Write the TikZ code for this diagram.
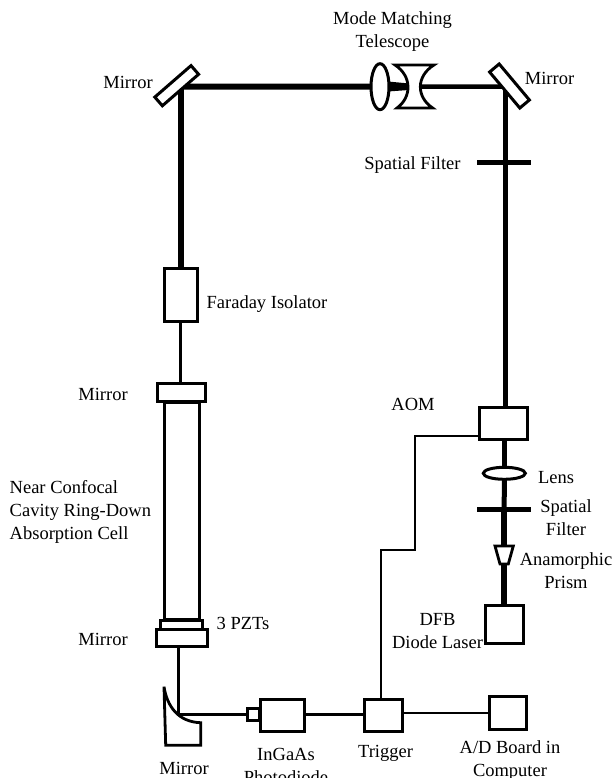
\documentclass[tikz,border=0pt]{standalone}
\usepackage{fontspec}
\usetikzlibrary{shapes.geometric,backgrounds}
\setmainfont{Liberation Serif}
\tikzset{
  box/.style={draw=black,fill=white,line width=3pt,inner sep=0pt,outer sep=0pt},
  oval/.style={box,ellipse},
  bar/.style={fill=black,inner sep=0pt,outer sep=0pt},
  lab/.style={inner sep=0pt,font=\fontsize{18.5}{23}\selectfont,align=center,text=black},
  beam/.style={line width=#1,draw=black},
  wire/.style={line width=2.6pt,draw=black,line join=miter}
}
\begin{document}
\begin{tikzpicture}[x=1pt,y=-1pt]
\useasboundingbox (0,0) rectangle (614,778);
\clip (0,0) rectangle (614,778);
% junctions
\coordinate (tl) at (181,86.5);
\coordinate (tr) at (505,86.5);
\coordinate (br) at (178.7,714.7);
\coordinate (w1) at (415,436);
\coordinate (w2) at (415,550);
\coordinate (w3) at (381,550);
\coordinate (pr) at (504.2,555);
\coordinate (conc) at (414,86.7);
\coordinate (sft) at (504.2,509.3);
% nodes
\node[box,minimum width=48pt,minimum height=32pt] (aom) at (503.3,423.3) {};
\node[box,minimum width=37.5pt,minimum height=37.5pt] (dfb) at (504.5,624.7) {};
\node[box,minimum width=33pt,minimum height=53pt] (far) at (180.5,294.5) {};
\node[box,minimum width=34.5pt,minimum height=217.5pt] (cell) at (181.8,511.2) {};
\node[box,minimum width=48pt,minimum height=18pt] (m1) at (181,392.3) {};
\node[box,minimum width=42pt,minimum height=8.5pt] (pzt) at (181.7,625) {};
\node[box,minimum width=51.5pt,minimum height=17.5pt] (m2) at (181.8,638) {};
\node[box,minimum width=43.5pt,minimum height=32.5pt] (pd) at (282.4,715.5) {};
\node[box,minimum width=12.5pt,minimum height=12.5pt] (pdh) at (253.7,714.7) {};
\node[box,minimum width=38pt,minimum height=32.5pt] (trig) at (383,715.5) {};
\node[box,minimum width=37pt,minimum height=32.5pt] (ad) at (507.5,713) {};
\node[oval,minimum width=18pt,minimum height=46pt] (tel) at (380,86.7) {};
\node[oval,minimum width=42pt,minimum height=12pt] (lens) at (504.3,473.3) {};
\node[box,minimum width=48pt,minimum height=11.5pt,rotate=41] (mtl) at (176.7,85.7) {};
\node[box,minimum width=47pt,minimum height=12.5pt,rotate=-50] (mtr) at (509.5,86) {};
\node[bar,minimum width=54pt,minimum height=5pt] (sf1) at (504,163) {};
\node[bar,minimum width=54pt,minimum height=5.5pt] (sf2) at (503.7,509.3) {};
\draw[line width=2.8pt,fill=white] (395,65) -- (434,65) .. controls (416,76) and (416,97) .. (432.7,108) -- (397,108) .. controls (412,97) and (412,76) .. (395,65) -- cycle;
\draw[line width=2.8pt,fill=white,line join=miter] (495,546) -- (513.3,546) -- (508.3,564) -- (500,564) -- cycle;
\draw[line width=2.8pt,fill=white] (164,686.7) .. controls (167,706) and (178,722) .. (200.7,722.7) -- (200.7,745.3) -- (165.7,745.3) -- cycle;
% connectors
\begin{pgfonlayer}{background}
\draw[beam=4.5pt] (tr) -- (conc);
\draw[beam=6pt] (tel) -- (tl);
\fill[black] (388,81.5) -- (409,83.5) -- (409,90) -- (388,91.5) -- cycle;
\draw[beam=6pt] (far.north) -- (far.north |- mtl);
\draw[beam=3.5pt] (far.south) -- (far.south |- m1.north);
\draw[beam=5pt] (tr) -- (tr |- aom.north);
\draw[beam=4.5pt] (lens |- aom.south) -- (lens.north);
\draw[beam=5pt] (lens.south) -- (sft);
\draw[beam=6.5pt] (sft) -- (pr);
\draw[beam=6.5pt] (pr) -- (pr |- dfb.north);
\draw[beam=3.5pt] (br |- m2.south) -- (br);
\end{pgfonlayer}
\draw[wire] (br) -- (pdh.west);
\draw[wire] (pd.east |- pdh) -- (trig.west |- pdh);
\draw[wire] (trig.east |- ad.west) -- (ad.west);
\draw[wire] (aom.west |- w1) -- (w1) -- (w2) -- (w3) -- (trig.north -| w3);
% labels
\node[lab] (t1) at (392.5,31.5) {Mode Matching\\Telescope};
\node[lab] (t2) at (128,82.5) {Mirror};
\node[lab] (t3) at (549.5,78) {Mirror};
\node[lab] (t4) at (412.5,165) {Spatial Filter};
\node[lab] (t5) at (267,304) {Faraday Isolator};
\node[lab] (t6) at (103,394) {Mirror};
\node[lab,align=left,anchor=west] (t7) at (9.5,512) {Near Confocal\\Cavity Ring-Down\\Absorption Cell};
\node[lab] (t8) at (243,623) {3 PZTs};
\node[lab] (t9) at (103,639) {Mirror};
\node[lab] (t10) at (184,768) {Mirror};
\node[lab] (t11) at (286,766) {InGaAs\\Photodiode};
\node[lab] (t12) at (385.5,753) {Trigger};
\node[lab] (t13) at (510,760.5) {A/D Board in\\Computer};
\node[lab] (t14) at (413,404) {AOM};
\node[lab] (t15) at (556,478) {Lens};
\node[lab] (t16) at (566,518) {Spatial\\Filter};
\node[lab] (t17) at (566,571) {Anamorphic\\Prism};
\node[lab] (t18) at (437.5,631) {DFB\\Diode Laser};
\end{tikzpicture}
\end{document}
